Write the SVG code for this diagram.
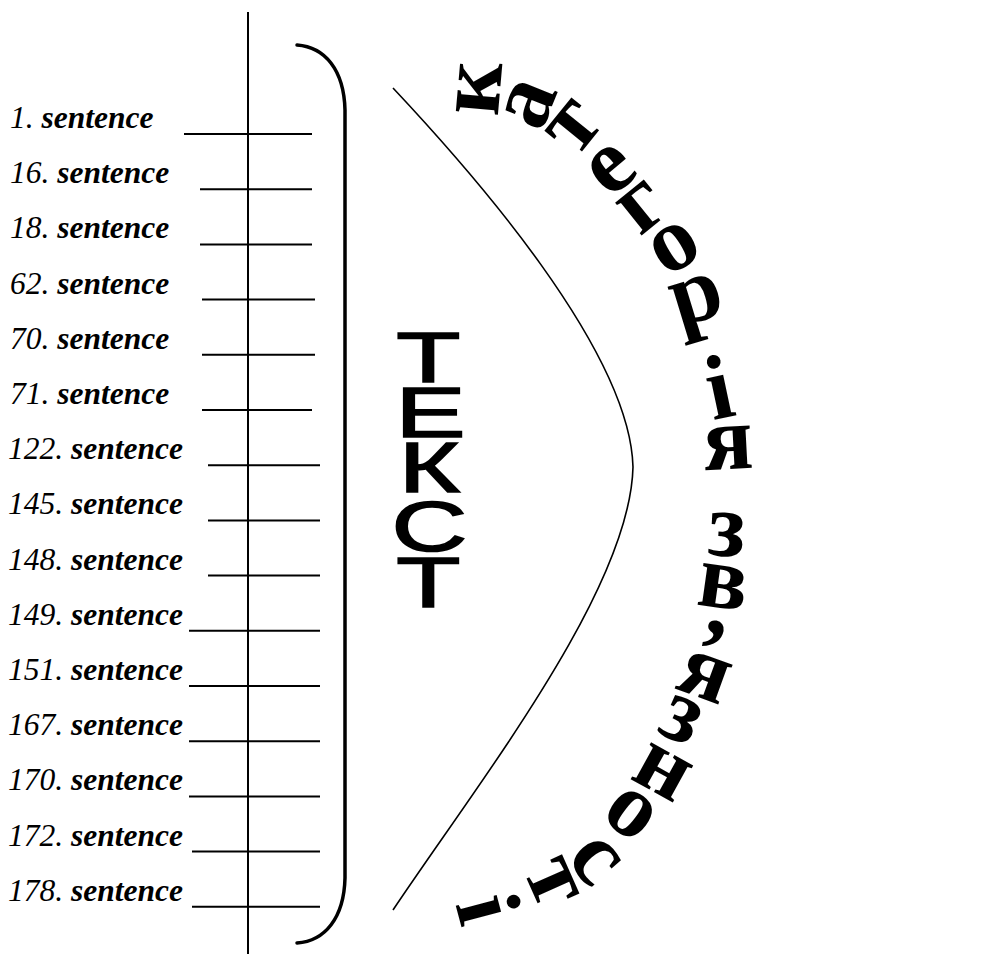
<svg xmlns="http://www.w3.org/2000/svg" width="987" height="954" viewBox="0 0 987 954">
<style>
.lbl{font-family:"Liberation Serif","Times New Roman",serif;font-style:italic;font-size:31.5px;fill:#000}
.b{font-weight:bold}
.ln{stroke:#000;stroke-width:2;fill:none}
.tekst{font-family:"Liberation Sans",Arial,sans-serif;font-size:70px;fill:#000;stroke:#000;stroke-width:1.6;text-anchor:middle}
.arc{font-family:"Liberation Serif","Times New Roman",serif;font-weight:bold;font-size:92px;fill:#000}
</style>
<rect width="987" height="954" fill="#fff"/>
<g id="connectors">
<line class="ln" x1="248" y1="12" x2="248" y2="954"/>
<line class="ln" x1="184" y1="134" x2="312" y2="134"/>
<line class="ln" x1="200" y1="189.2" x2="312" y2="189.2"/>
<line class="ln" x1="200" y1="244.4" x2="312" y2="244.4"/>
<line class="ln" x1="202" y1="299.6" x2="315" y2="299.6"/>
<line class="ln" x1="202" y1="354.8" x2="315" y2="354.8"/>
<line class="ln" x1="202" y1="410" x2="312" y2="410"/>
<line class="ln" x1="208" y1="465.2" x2="320" y2="465.2"/>
<line class="ln" x1="208" y1="520.4" x2="320" y2="520.4"/>
<line class="ln" x1="208" y1="575.6" x2="320" y2="575.6"/>
<line class="ln" x1="189" y1="630.8" x2="320" y2="630.8"/>
<line class="ln" x1="189" y1="686" x2="320" y2="686"/>
<line class="ln" x1="189" y1="741.2" x2="320" y2="741.2"/>
<line class="ln" x1="189" y1="796.4" x2="320" y2="796.4"/>
<line class="ln" x1="192" y1="851.6" x2="320" y2="851.6"/>
<line class="ln" x1="192" y1="906.8" x2="320" y2="906.8"/>
<path d="M297,45 C325,47 344,70 345,110 L345,878 C344,918 325,941 297,943" fill="none" stroke="#000" stroke-width="3.5" stroke-linecap="round"/>
<path d="M393,88 C470,170 630,350 633,467 C630,590 480,780 393,910" fill="none" stroke="#000" stroke-width="1.6"/>
</g>
<g id="row1"><text class="lbl" x="10" y="128">1. <tspan class="b">sentence</tspan></text></g>
<g id="row16"><text class="lbl" x="10" y="183.2">16. <tspan class="b">sentence</tspan></text></g>
<g id="row18"><text class="lbl" x="10" y="238.4">18. <tspan class="b">sentence</tspan></text></g>
<g id="row62"><text class="lbl" x="10" y="293.6">62. <tspan class="b">sentence</tspan></text></g>
<g id="row70"><text class="lbl" x="10" y="348.8">70. <tspan class="b">sentence</tspan></text></g>
<g id="row71"><text class="lbl" x="10" y="404">71. <tspan class="b">sentence</tspan></text></g>
<g id="row122"><text class="lbl" x="8" y="459.2">122. <tspan class="b">sentence</tspan></text></g>
<g id="row145"><text class="lbl" x="8" y="514.4">145. <tspan class="b">sentence</tspan></text></g>
<g id="row148"><text class="lbl" x="8" y="569.6">148. <tspan class="b">sentence</tspan></text></g>
<g id="row149"><text class="lbl" x="8" y="624.8">149. <tspan class="b">sentence</tspan></text></g>
<g id="row151"><text class="lbl" x="8" y="680">151. <tspan class="b">sentence</tspan></text></g>
<g id="row167"><text class="lbl" x="8" y="735.2">167. <tspan class="b">sentence</tspan></text></g>
<g id="row170"><text class="lbl" x="8" y="790.4">170. <tspan class="b">sentence</tspan></text></g>
<g id="row172"><text class="lbl" x="8" y="845.6">172. <tspan class="b">sentence</tspan></text></g>
<g id="row178"><text class="lbl" x="8" y="900.8">178. <tspan class="b">sentence</tspan></text></g>
<g id="tekst">
<text class="tekst" transform="scale(1.5,1)" x="285.5 287 286.2 286.2 285.5" y="382 437 492 551 607">ТЕКСТ</text>
</g>
<g id="arc-title">
<text class="arc" x="497.7 540.9 576.5 609.8 639.7 666.1 678.7 712.7 704.6" y="116.7 133.2 158.3 199.3 236.9 277.8 327.5 420.2 470.3" rotate="-85 -68 -51 -40 -39 -31 -17 -12 -3">категорія</text>
<text class="arc" x="706.9 695.3 690.1 673.8 655.2 628.5 599 564.7 522.9 455.3" y="555 604.6 677.7 688.3 732.1 778 817 859.3 870.4 903.8" rotate="3 8 11 20 24 29 37 49 66 75">зв’язності</text>
</g>
</svg>
